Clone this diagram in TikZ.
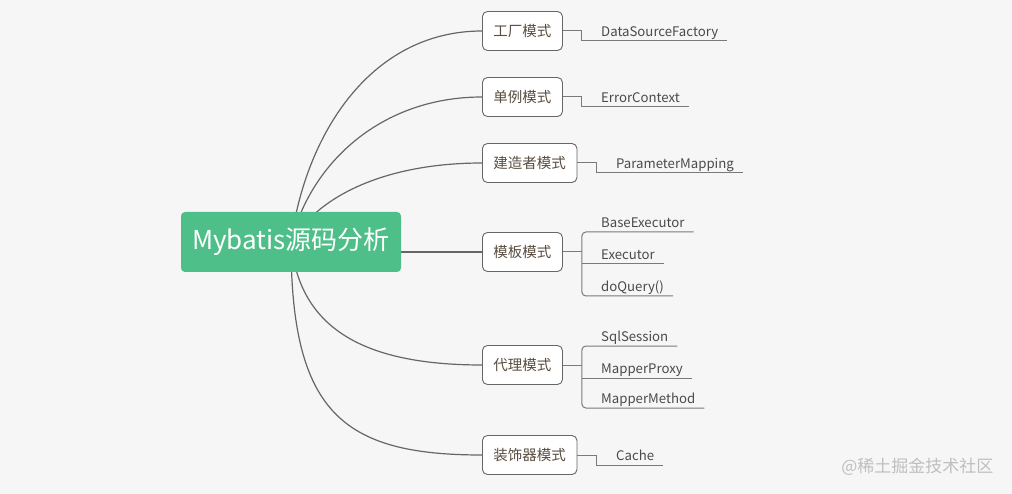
\documentclass[tikz,border=0pt]{standalone}
\usepackage{fontspec}
\setmainfont{Noto Sans CJK SC}
\usetikzlibrary{positioning,backgrounds}
\definecolor{bgc}{HTML}{F6F6F6}
\definecolor{rootc}{HTML}{4FBF8A}
\definecolor{linec}{HTML}{666666}
\definecolor{boxtxt}{HTML}{5A4D40}
\definecolor{leaftxt}{HTML}{4A4A4A}
\definecolor{twigc}{HTML}{7A7A7A}

\begin{document}
\begin{tikzpicture}[x=1pt,y=-1pt]
\tikzset{topic/.style={draw=linec,line width=0.9pt,fill=white,rounded corners=5pt,anchor=west,minimum height=39pt,inner xsep=11pt,font=\fontsize{14.5}{16}\selectfont,text=boxtxt}}
\tikzset{leaf/.style={anchor=south west,inner xsep=9pt,inner ysep=2pt,text depth=2.5pt,font=\fontsize{13.2}{15}\selectfont,text=leaftxt}}
\tikzset{trunk/.style={draw=linec,line width=1.2pt}}
\tikzset{twig/.style={draw=twigc,line width=1pt}}
\useasboundingbox (0,0) rectangle (1012,494);
% central topic
\node[fill=rootc,rounded corners=4pt,minimum width=220pt,minimum height=60pt,text=white,font=\fontsize{26}{30}\selectfont] (root) at (291,242) {Mybatis源码分析};

% main topics
\node[topic] (fac) at (482,31) {工厂模式};
\node[topic] (sgl) at (482,97) {单例模式};
\node[topic] (bld) at (482,163) {建造者模式};
\node[topic] (tpl) at (482,252) {模板模式};
\node[topic] (prx) at (482,365) {代理模式};
\node[topic] (dec) at (482,455) {装饰器模式};

% leaves
\node[leaf] (dsf) at (592,41) {DataSourceFactory};
\node[leaf] (erc) at (592,107) {ErrorContext};
\node[leaf] (pmp) at (607,173) {ParameterMapping};
\node[leaf] (bex) at (592,232) {BaseExecutor};
\node[leaf] (exe) at (592,264) {Executor};
\node[leaf] (dqy) at (592,296) {doQuery()};
\node[leaf] (sqs) at (592,346) {SqlSession};
\node[leaf] (mpp) at (592,378) {MapperProxy};
\node[leaf] (mpm) at (592,408) {MapperMethod};
\node[leaf] (cch) at (607,465) {Cache};

\node[anchor=east,text=gray!50,font=\fontsize{17}{19}\selectfont] (mark) at (997,467) {@稀土掘金技术社区};

% branches from the central topic
\begin{pgfonlayer}{background}
\fill[bgc] (0,0) rectangle (1012,494);
\draw[trunk] (root.center) .. controls +(15,-110) and +(-110,0) .. (fac.west);
\draw[trunk] (root.center) .. controls +(20,-80) and +(-100,0) .. (sgl.west);
\draw[trunk] (root.center) .. controls +(30,-50) and +(-90,0) .. (bld.west);
\draw[trunk] (root.center |- tpl.west) -- (tpl.west);
\draw[trunk] (root.center) .. controls +(8,82) and +(-125,0) .. (prx.west);
\draw[trunk] (root.center) .. controls +(0,170) and +(-140,0) .. (dec.west);
\end{pgfonlayer}

% single leaves
\draw[twig] (fac.east) -- ++(19,0) |- (dsf.south east);
\draw[twig] (sgl.east) -- ++(19,0) |- (erc.south east);
\draw[twig] (bld.east) -- ++(19,0) |- (pmp.south east);
\draw[twig] (dec.east) -- ++(19,0) |- (cch.south east);

% grouped leaves
\coordinate (tplj) at ([xshift=19pt]tpl.east);
\draw[twig] (tpl.east) -- (tplj);
\draw[twig,rounded corners=4pt] (bex.south east) -- (bex.south west -| tplj) -- (dqy.south west -| tplj) -- (dqy.south east);
\draw[twig] (tplj |- exe.south) -- (exe.south east);

\coordinate (prxj) at ([xshift=19pt]prx.east);
\draw[twig] (prx.east) -- (prxj);
\draw[twig,rounded corners=4pt] (sqs.south east) -- (sqs.south west -| prxj) -- (mpm.south west -| prxj) -- (mpm.south east);
\draw[twig] (prxj |- mpp.south) -- (mpp.south east);
\end{tikzpicture}
\end{document}
